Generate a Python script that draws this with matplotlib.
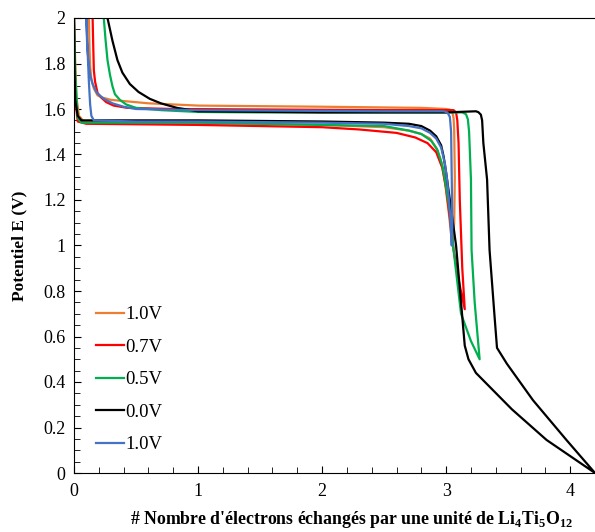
import numpy as np
import matplotlib.pyplot as plt
from matplotlib.ticker import MultipleLocator

# curves: discharge (plateau ~1.54 V) then charge back (plateau ~1.59 V)
x_10a = [0.0, 0.01, 0.02, 0.04, 0.08, 0.3, 1.0, 2.0, 2.5, 2.7, 2.8, 2.87, 2.92, 2.96, 2.99, 3.02, 3.05,
         3.065, 3.07, 3.065, 3.06, 3.05, 3.03, 3.0, 2.8, 2.0, 1.0, 0.6, 0.4, 0.3, 0.23, 0.19, 0.16,
         0.14, 0.13, 0.125, 0.12]
e_10a = [2.0, 1.8, 1.65, 1.57, 1.545, 1.54, 1.535, 1.53, 1.52, 1.505, 1.49, 1.47, 1.43, 1.37, 1.28, 1.15, 1.0,
         1.1, 1.3, 1.5, 1.56, 1.585, 1.597, 1.60, 1.605, 1.61, 1.615, 1.625, 1.635, 1.64, 1.65, 1.66, 1.69,
         1.73, 1.79, 1.87, 2.0]

x_07 = [0.0, 0.005, 0.015, 0.03, 0.1, 1.0, 2.0, 2.3, 2.6, 2.75, 2.85, 2.92, 2.97, 3.0, 3.03, 3.06, 3.1,
        3.15, 3.13, 3.11, 3.1, 3.09, 3.08, 3.06, 2.5, 1.5, 0.8, 0.43, 0.32, 0.26, 0.22, 0.19, 0.17, 0.16,
        0.155, 0.15]
e_07 = [2.0, 1.8, 1.62, 1.545, 1.535, 1.53, 1.52, 1.51, 1.495, 1.475, 1.45, 1.41, 1.34, 1.25, 1.12, 0.98, 0.85,
        0.72, 0.9, 1.2, 1.45, 1.55, 1.585, 1.595, 1.595, 1.598, 1.60, 1.605, 1.615, 1.63, 1.65, 1.67, 1.72, 1.77,
        1.88, 2.0]

x_05 = [0.0, 0.01, 0.03, 0.06, 1.0, 2.0, 2.5, 2.7, 2.8, 2.88, 2.93, 2.97, 2.99, 3.03, 3.06, 3.12, 3.2,
        3.27, 3.23, 3.205, 3.2, 3.185, 3.175, 3.16, 3.13, 2.5, 1.5, 1.0, 0.7, 0.5, 0.42, 0.37, 0.33, 0.31,
        0.29, 0.27, 0.255, 0.24]
e_05 = [2.0, 1.75, 1.56, 1.54, 1.54, 1.53, 1.525, 1.505, 1.49, 1.46, 1.42, 1.35, 1.29, 1.15, 0.98, 0.70, 0.58,
        0.5, 0.75, 0.98, 1.29, 1.5, 1.555, 1.577, 1.585, 1.585, 1.585, 1.587, 1.595, 1.605, 1.62, 1.64, 1.665,
        1.7, 1.75, 1.815, 1.9, 2.0]

x_00 = [0.0, 0.005, 0.01, 0.03, 0.06, 0.5, 1.0, 2.0, 2.5, 2.7, 2.8, 2.87, 2.92, 2.96, 2.98, 3.0, 3.03,
        3.08, 3.12, 3.15, 3.18, 3.24, 3.53, 3.81, 4.2,
        3.97, 3.7, 3.49, 3.41, 3.39, 3.35, 3.33, 3.30, 3.295, 3.29, 3.28, 3.26, 3.24, 3.0, 2.0, 1.0,
        0.83, 0.7, 0.61, 0.52, 0.45, 0.39, 0.35, 0.31, 0.27]
e_00 = [2.0, 1.75, 1.64, 1.57, 1.55, 1.55, 1.55, 1.545, 1.54, 1.535, 1.525, 1.505, 1.48, 1.44, 1.39, 1.32, 1.2,
        1.0, 0.75, 0.56, 0.5, 0.44, 0.28, 0.145, 0.0,
        0.145, 0.32, 0.48, 0.55, 0.69, 0.98, 1.29, 1.45, 1.5, 1.55, 1.575, 1.586, 1.59, 1.585, 1.585, 1.59,
        1.605, 1.625, 1.645, 1.675, 1.71, 1.76, 1.815, 1.9, 2.0]

x_10b = [0.10, 0.11, 0.12, 0.13, 0.14, 0.16, 0.5, 1.0, 2.0, 2.5, 2.7, 2.8, 2.87, 2.92, 2.96, 2.99, 3.01,
         3.03, 3.045, 3.05, 3.045, 3.04, 3.03, 3.01, 2.98, 2.5, 1.0, 0.5, 0.4, 0.31, 0.24, 0.185, 0.15,
         0.13, 0.115, 0.105, 0.10]
e_10b = [2.0, 1.85, 1.72, 1.62, 1.57, 1.55, 1.545, 1.545, 1.54, 1.535, 1.525, 1.515, 1.495, 1.47, 1.43, 1.36,
         1.28, 1.15, 1.0, 1.1, 1.3, 1.5, 1.565, 1.585, 1.59, 1.59, 1.595, 1.60, 1.61, 1.625, 1.645, 1.67,
         1.71, 1.75, 1.82, 1.9, 2.0]

labels = ['1.0V', '0.7V', '0.5V', '0.0V', '1.0V']
colors = ['#ED7D31', '#FF0000', '#00B050', '#000000', '#4472C4']

plt.rcParams['font.family'] = ['Liberation Serif', 'DejaVu Serif']
plt.rcParams['mathtext.fontset'] = 'custom'
plt.rcParams['mathtext.rm'] = 'Liberation Serif'
plt.rcParams['mathtext.bf'] = 'Liberation Serif:bold'

fig = plt.figure(figsize=(5.95, 5.32), dpi=100)
ax = fig.add_axes([74/595, 59/532, 1 - 74/595, 455/532])

curves = [(x_10a, e_10a), (x_07, e_07), (x_05, e_05), (x_00, e_00), (x_10b, e_10b)]
for (xs, es), lab, c in zip(curves, labels, colors):
    ax.plot(xs, es, color=c, lw=1.6, label=lab, solid_joinstyle='round')

ax.set_xlim(0, 4.2)
ax.set_ylim(0, 2)
ax.xaxis.set_major_locator(MultipleLocator(1))
ax.xaxis.set_minor_locator(MultipleLocator(0.2))
ax.yaxis.set_major_locator(MultipleLocator(0.2))
ax.yaxis.set_minor_locator(MultipleLocator(0.05))
ax.yaxis.set_major_formatter(plt.FuncFormatter(lambda v, p: f'{v:.1f}'.rstrip('0').rstrip('.') if v else '0'))
ax.tick_params(which='both', direction='in', labelsize=13)
ax.tick_params(which='major', length=5)
ax.tick_params(which='minor', length=4)
ax.tick_params(axis='x', pad=7)
ax.tick_params(axis='y', pad=6)
ax.spines['right'].set_visible(False)

ax.set_ylabel('Potentiel E (V)', fontsize=12.5, fontweight='bold')
ax.yaxis.set_label_coords(-0.09, 0.5)
ax.set_xlabel("# Nombre d'électrons échangés par une unité de Li$_\\mathbf{4}$Ti$_\\mathbf{5}$O$_\\mathbf{12}$",
              fontsize=12.8, fontweight='bold')
ax.xaxis.set_label_coords(0.533, -0.08)

ax.legend(loc='center left', bbox_to_anchor=(0.01, 0.205), frameon=False, fontsize=13.5,
          handlelength=1.5, handletextpad=0.05, labelspacing=0.82)

fig.savefig('out.png', dpi=100)
